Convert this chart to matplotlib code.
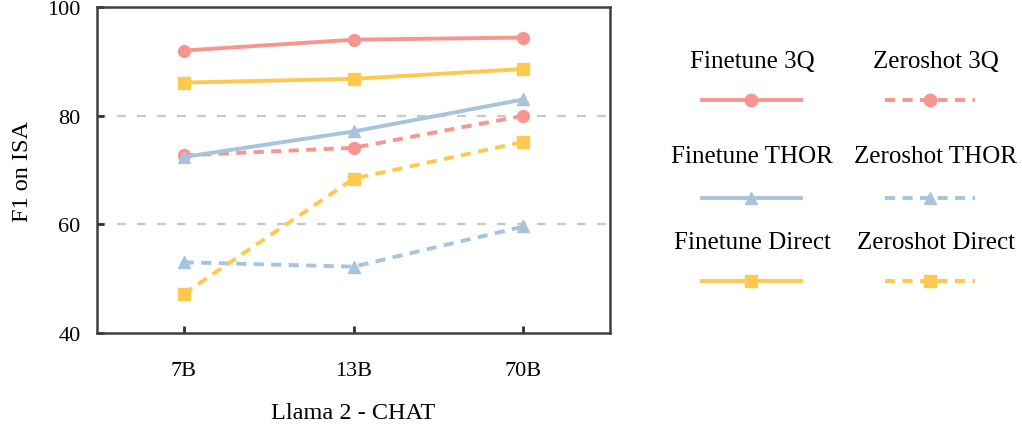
import matplotlib.pyplot as plt

plt.rcParams['font.family'] = ['Liberation Serif', 'DejaVu Serif']

sizes = ['7B', '13B', '70B']
finetune_3q = [92.0, 94.0, 94.4]
finetune_thor = [72.4, 77.1, 83.0]
finetune_direct = [86.1, 86.8, 88.6]
zeroshot_3q = [72.7, 74.1, 80.0]
zeroshot_thor = [53.0, 52.2, 59.6]
zeroshot_direct = [47.2, 68.4, 75.2]

red = '#F7958F'
blue = '#A7C4DF'
yellow = '#FFC84E'

series = [
    ('Finetune 3Q', finetune_3q, red, 'o', '-'),
    ('Zeroshot 3Q', zeroshot_3q, red, 'o', '--'),
    ('Finetune THOR', finetune_thor, blue, '^', '-'),
    ('Zeroshot THOR', zeroshot_thor, blue, '^', '--'),
    ('Finetune Direct', finetune_direct, yellow, 's', '-'),
    ('Zeroshot Direct', zeroshot_direct, yellow, 's', '--'),
]

fig = plt.figure(figsize=(10.22, 4.27), dpi=100)
ax = fig.add_axes([0.095, 0.218, 0.502, 0.763])

x = list(range(len(sizes)))
for name, vals, col, mk, ls in series:
    kw = dict(color=col, marker=mk, markersize=8.5, lw=2.8, label=name)
    if ls == '--':
        kw['dashes'] = (2.6, 1.9)
    ax.plot(x, vals, **kw)

for g in [60, 80]:
    ax.axhline(g, color='#C8C8C8', lw=1.6, dashes=(4, 5), zorder=0)

ax.set_xlim(-0.51, 2.51)
ax.set_ylim(40, 100)
ax.set_xticks(x)
ax.set_xticklabels(sizes)
ax.set_yticks([40, 60, 80, 100])
ax.tick_params(direction='in', length=5, width=2, color='#303030', labelsize=16)
ax.tick_params(axis='y', pad=12)
ax.tick_params(axis='x', pad=20)
for s in ax.spines.values():
    s.set_linewidth(1.8)
    s.set_color('#404040')
ax.set_xlabel('Llama 2 - CHAT', fontsize=17.5, labelpad=16)
ax.set_ylabel('F1 on ISA', fontsize=17.5, labelpad=10)

# legend: label above each line sample, two columns
lax = fig.add_axes([0.63, 0.0, 0.37, 1.0])
lax.set_xlim(0, 1)
lax.set_ylim(0, 1)
lax.axis('off')
col_x = [(0.153, 0.415, 0.286), (0.638, 0.876, 0.772)]
row_y = [(0.855, 0.763), (0.632, 0.534), (0.43, 0.34)]
for i, (name, vals, col, mk, ls) in enumerate(series):
    c = i % 2
    r = i // 2
    x0, x1, tx = col_x[c]
    ty, ly = row_y[r]
    lax.text(tx, ty, name, ha='center', va='center', fontsize=18)
    kw = dict(color=col, lw=2.8)
    if ls == '--':
        kw['dashes'] = (2.6, 1.9)
    lax.plot([x0, x1], [ly, ly], **kw)
    lax.plot([(x0 + x1) / 2], [ly], color=col, marker=mk, markersize=9, lw=0)

fig.savefig('out.png', dpi=100)
